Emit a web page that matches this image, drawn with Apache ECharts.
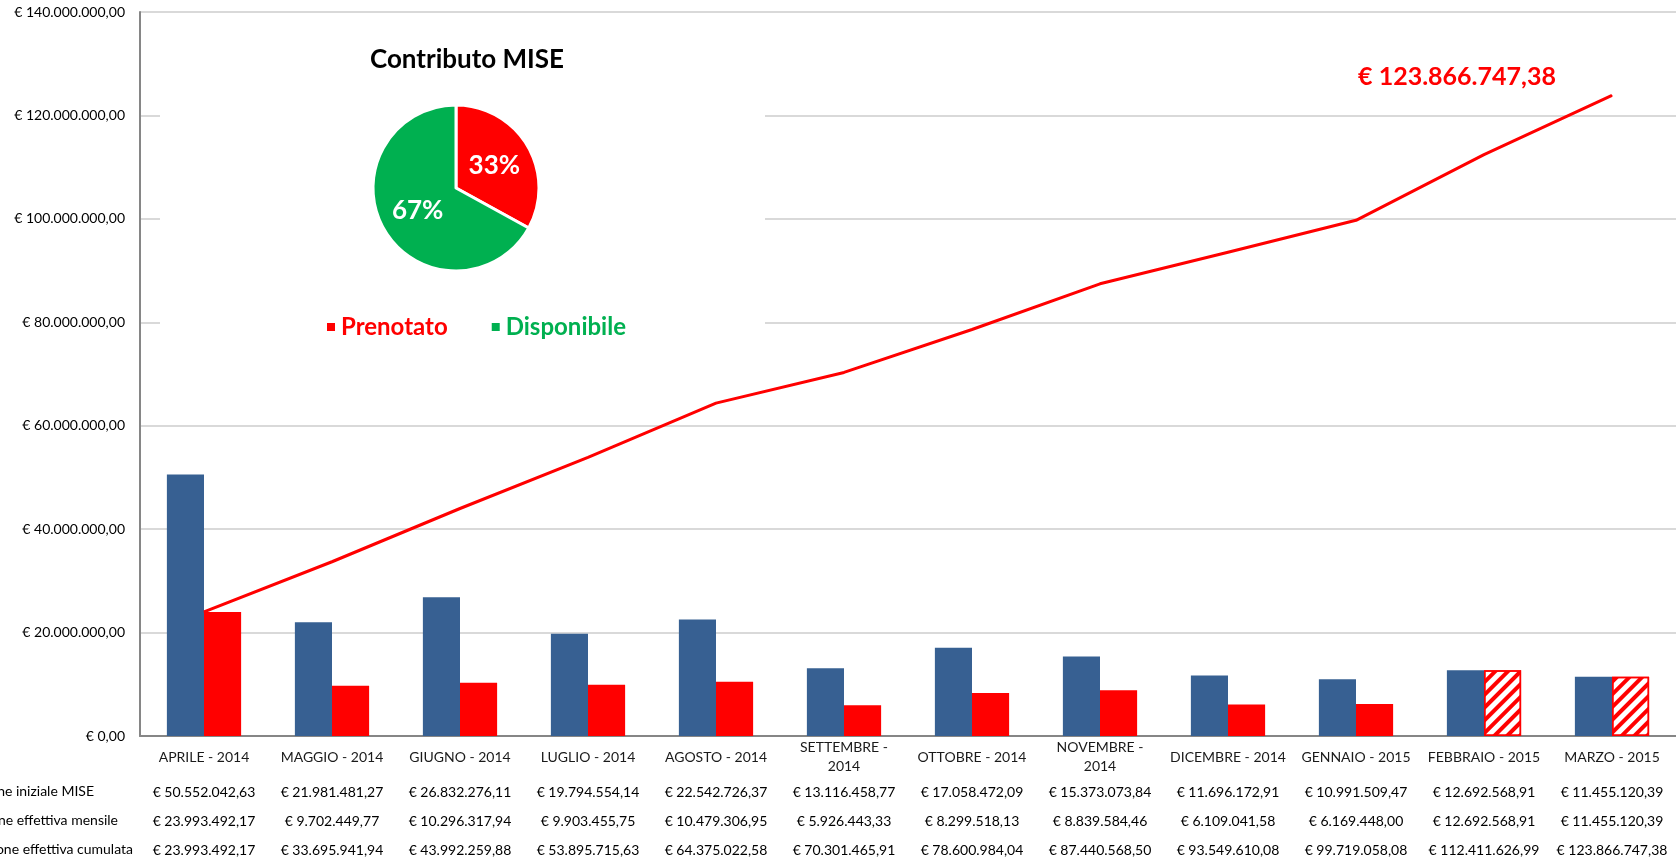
<!DOCTYPE html>
<html>
<head>
<meta charset="utf-8">
<title>Contributo MISE</title>
<script src="https://cdn.jsdelivr.net/npm/echarts@6/dist/echarts.min.js"></script>
<style>
  html, body { margin: 0; padding: 0; background: #fff; }
  #main { width: 1676px; height: 862px; }
</style>
</head>
<body>
<div id="main"></div>
<script>
// mesi (categorie)
var mesi = ['APRILE - 2014', 'MAGGIO - 2014', 'GIUGNO - 2014', 'LUGLIO - 2014', 'AGOSTO - 2014',
    'SETTEMBRE -\n2014', 'OTTOBRE - 2014', 'NOVEMBRE -\n2014', 'DICEMBRE - 2014',
    'GENNAIO - 2015', 'FEBBRAIO - 2015', 'MARZO - 2015'];
// dotazione iniziale MISE
var iniziale = [50552042.63, 21981481.27, 26832276.11, 19794554.14, 22542726.37, 13116458.77,
    17058472.09, 15373073.84, 11696172.91, 10991509.47, 12692568.91, 11455120.39];
// prenotazione effettiva mensile
var mensile = [23993492.17, 9702449.77, 10296317.94, 9903455.75, 10479306.95, 5926443.33,
    8299518.13, 8839584.46, 6109041.58, 6169448.00, 12692568.91, 11455120.39];
// prenotazione effettiva cumulata
var cumulata = [23993492.17, 33695941.94, 43992259.88, 53895715.63, 64375022.58, 70301465.91,
    78600984.04, 87440568.50, 93549610.08, 99719058.08, 112411626.99, 123866747.38];
// mesi previsti (barre tratteggiate)
var previsti = [false, false, false, false, false, false, false, false, false, false, true, true];
// torta contributo MISE (%)
var torta = [{ name: 'Prenotato', value: 33 }, { name: 'Disponibile', value: 67 }];
var righe = ['Dotazione iniziale MISE', 'Prenotazione effettiva mensile', 'Prenotazione effettiva cumulata'];

var BLU = '#376092', ROSSO = '#FF0000', VERDE = '#00B050';
var FONT = 'Lato, "Open Sans", sans-serif';

function eur(v) {
    var p = Number(v).toFixed(2).split('.');
    return '€ ' + p[0].replace(/\B(?=(\d{3})+(?!\d))/g, '.') + ',' + p[1];
}

// asse x aggiuntivo per una riga della tabella sotto il grafico
function rigaTabella(valori, offset) {
    return {
        type: 'category',
        gridIndex: 0,
        position: 'bottom',
        offset: offset,
        data: valori.map(eur),
        axisLine: { show: false },
        axisTick: { show: false },
        axisLabel: {
            interval: 0, margin: 0, verticalAlign: 'middle',
            fontFamily: FONT, fontSize: 14, color: '#000'
        }
    };
}

var myChart = echarts.init(document.getElementById('main'));

myChart.setOption({
    animation: false,
    textStyle: { fontFamily: FONT },
    title: {
        text: 'Contributo MISE',
        left: 462,
        top: 42,
        textAlign: 'center',
        textStyle: { fontFamily: FONT, fontSize: 26, fontWeight: 'bold', color: '#000' }
    },
    legend: {
        data: [
            { name: 'Prenotato', textStyle: { color: ROSSO } },
            { name: 'Disponibile', textStyle: { color: VERDE } }
        ],
        left: 320,
        top: 310,
        icon: 'rect',
        itemWidth: 10,
        itemHeight: 10,
        itemGap: 42,
        textStyle: { fontFamily: FONT, fontSize: 24, fontWeight: 'bold' }
    },
    grid: { left: 140, right: -2, top: 12, bottom: 126, containLabel: false },
    xAxis: [{
        type: 'category',
        data: mesi,
        axisLine: { lineStyle: { color: '#868686', width: 2 } },
        axisTick: { show: false },
        axisLabel: {
            interval: 0, margin: 21, verticalAlign: 'middle', lineHeight: 19,
            fontFamily: FONT, fontSize: 14, color: '#1a1a1a'
        }
    },
        rigaTabella(iniziale, 56),
        rigaTabella(mensile, 85),
        rigaTabella(cumulata, 114)
    ],
    yAxis: {
        type: 'value',
        min: 0,
        max: 140000000,
        interval: 20000000,
        axisLine: { show: true, lineStyle: { color: '#868686', width: 2 } },
        axisTick: { show: false },
        splitLine: { lineStyle: { color: '#D9D9D9', width: 2 } },
        axisLabel: {
            margin: 15, fontFamily: FONT, fontSize: 14, color: '#000',
            formatter: function (v) { return eur(v); }
        }
    },
    graphic: [
        // riquadro bianco sotto la torta
        { type: 'rect', z: 1, shape: { x: 160, y: 15, width: 605, height: 335 }, style: { fill: '#fff' } },
        { type: 'text', x: 94, y: 791, style: { text: righe[0], align: 'right', verticalAlign: 'middle', font: '14px ' + FONT, fill: '#000' } },
        { type: 'text', x: 118, y: 820, style: { text: righe[1], align: 'right', verticalAlign: 'middle', font: '14px ' + FONT, fill: '#000' } },
        { type: 'text', x: 133, y: 849, style: { text: righe[2], align: 'right', verticalAlign: 'middle', font: '14px ' + FONT, fill: '#000' } }
    ],
    series: [{
        name: righe[0],
        type: 'bar',
        barWidth: '29%',
        barGap: '0%',
        itemStyle: { color: BLU },
        data: iniziale
    }, {
        name: righe[1],
        type: 'bar',
        barWidth: '29%',
        itemStyle: { color: ROSSO },
        data: mensile.map(function (v, i) {
            if (!previsti[i]) return v;
            return {
                value: v,
                itemStyle: {
                    color: '#fff',
                    borderColor: ROSSO,
                    borderWidth: 1.5,
                    decal: {
                        symbol: 'rect', symbolSize: 1, color: ROSSO,
                        dashArrayX: [1, 0], dashArrayY: [4, 5], rotation: -Math.PI / 4
                    }
                }
            };
        })
    }, {
        name: righe[2],
        type: 'line',
        symbol: 'circle',
        symbolSize: 1,
        showAllSymbol: true,
        z: 3,
        lineStyle: { color: ROSSO, width: 3 },
        itemStyle: { color: ROSSO },
        data: cumulata.map(function (v, i) {
            if (i !== cumulata.length - 1) return v;
            return {
                value: v,
                label: {
                    show: true, position: 'top', offset: [-155, 0],
                    formatter: function (p) { return eur(p.value); },
                    fontFamily: FONT, fontSize: 25, fontWeight: 'bold', color: ROSSO
                }
            };
        })
    }, {
        name: 'Contributo MISE',
        type: 'pie',
        z: 3,
        center: [456, 188],
        radius: 83,
        startAngle: 90,
        clockwise: true,
        percentPrecision: 0,
        itemStyle: { borderColor: '#fff', borderWidth: 3 },
        label: {
            position: 'inside', formatter: '{d}%',
            fontFamily: FONT, fontSize: 26, fontWeight: 'bold', color: '#fff'
        },
        labelLine: { show: false },
        emphasis: { disabled: true },
        data: [
            { name: torta[0].name, value: torta[0].value, itemStyle: { color: ROSSO } },
            { name: torta[1].name, value: torta[1].value, itemStyle: { color: VERDE } }
        ]
    }]
});
</script>
</body>
</html>
